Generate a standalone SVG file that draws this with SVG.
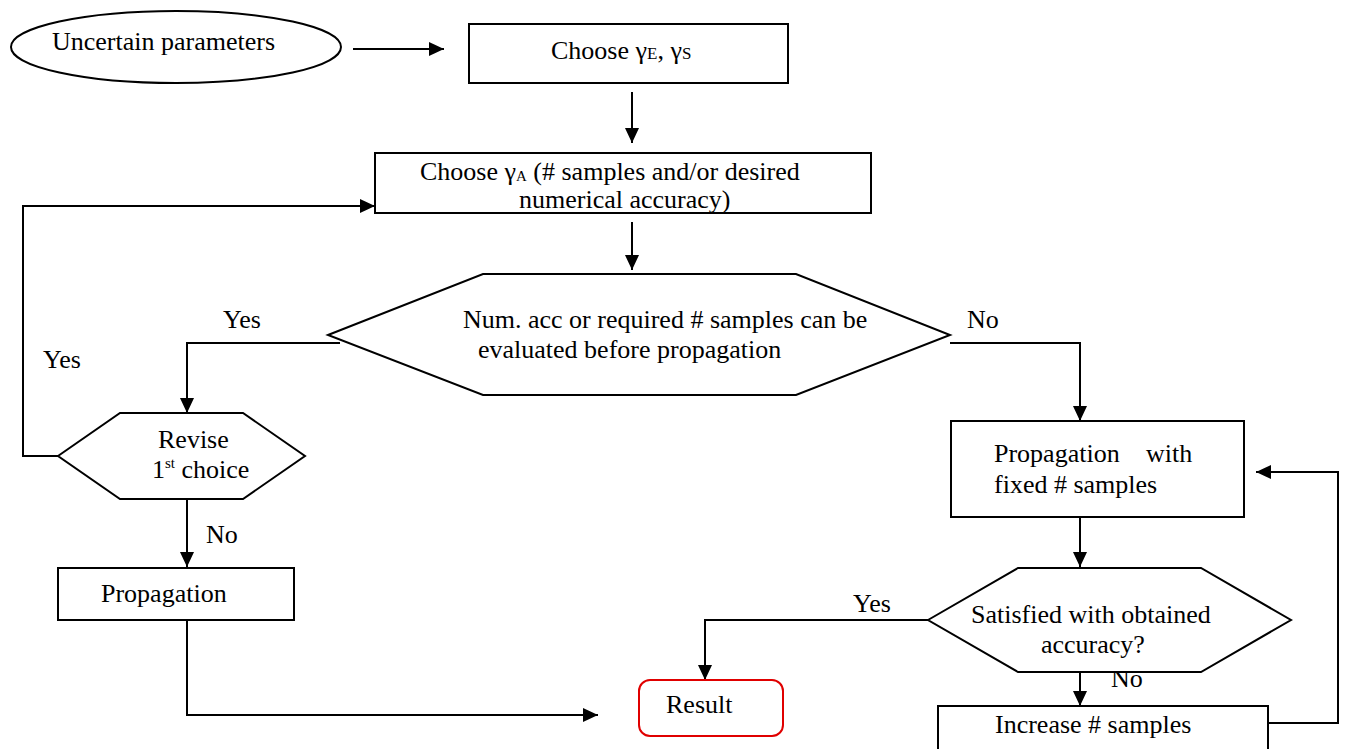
<svg xmlns="http://www.w3.org/2000/svg" width="1348" height="749" viewBox="0 0 1348 749">
<style>
.s{fill:#fff;stroke:#000;stroke-width:2}
.c{fill:none;stroke:#000;stroke-width:2}
text{font-family:"Liberation Serif","Times New Roman",serif;font-size:26px;fill:#000}
.sub{font-size:17px}
</style>
<defs>
<marker id="ah" markerUnits="userSpaceOnUse" markerWidth="16" markerHeight="14" refX="15" refY="7" orient="auto">
<path d="M0,0 L15,7 L0,14 z" fill="#000"/>
</marker>
</defs>
<rect width="1348" height="749" fill="#fff"/>
<g id="connectors">
<line class="c" x1="353" y1="49" x2="444" y2="49" marker-end="url(#ah)"/>
<line class="c" x1="632" y1="92" x2="632" y2="143" marker-end="url(#ah)"/>
<line class="c" x1="632" y1="222" x2="632" y2="270" marker-end="url(#ah)"/>
<polyline class="c" points="58,456 23,456 23,206 375,206" marker-end="url(#ah)"/>
<polyline class="c" points="340,343 187,343 187,413" marker-end="url(#ah)"/>
<line class="c" x1="187" y1="499" x2="187" y2="567" marker-end="url(#ah)"/>
<polyline class="c" points="187,620 187,715 598,715" marker-end="url(#ah)"/>
<polyline class="c" points="950,343 1080,343 1080,421" marker-end="url(#ah)"/>
<line class="c" x1="1080" y1="517" x2="1080" y2="567" marker-end="url(#ah)"/>
<polyline class="c" points="928,620 705,620 705,680" marker-end="url(#ah)"/>
<line class="c" x1="1080" y1="672" x2="1080" y2="706" marker-end="url(#ah)"/>
<polyline class="c" points="1268,723 1338,723 1338,472 1256,472" marker-end="url(#ah)"/>
<text x="223" y="328">Yes</text>
<text x="43" y="368">Yes</text>
<text x="967" y="328">No</text>
<text x="206" y="543">No</text>
<text x="853" y="612">Yes</text>
<text x="1111" y="687">No</text>
</g>
<g id="uncertain">
<ellipse class="s" cx="176" cy="47" rx="165" ry="36"/>
<text x="52" y="50">Uncertain parameters</text>
</g>
<g id="chooseES">
<rect class="s" x="469" y="24" width="319" height="59"/>
<text x="551" y="59">Choose γ<tspan class="sub">E</tspan>, γ<tspan class="sub">S</tspan></text>
</g>
<g id="chooseA">
<rect class="s" x="375" y="153" width="496" height="60"/>
<text x="420" y="180">Choose γ<tspan class="sub" dy="1" style="font-size:15px">A</tspan><tspan dy="-1"> (# samples and/or desired</tspan></text>
<text x="519" y="208">numerical accuracy)</text>
</g>
<g id="evaluate">
<polygon class="s" points="328,335 483,274 796,274 950,335 796,395 483,395"/>
<text x="463" y="328">Num. acc or required # samples can be</text>
<text x="478" y="358">evaluated before propagation</text>
</g>
<g id="revise">
<polygon class="s" points="58,456 120,413 243,413 305,456 243,499 120,499"/>
<text x="158" y="448">Revise</text>
<text x="152" y="478">1<tspan class="sub" dy="-10" style="font-size:15px">st</tspan><tspan dy="10"> choice</tspan></text>
</g>
<g id="propagation">
<rect class="s" x="58" y="568" width="236" height="52"/>
<text x="101" y="602">Propagation</text>
</g>
<g id="result">
<rect x="639" y="680" width="144" height="56" rx="11" fill="#fff" stroke="#e00000" stroke-width="2"/>
<text x="666" y="713">Result</text>
</g>
<g id="propfixed">
<rect class="s" x="951" y="421" width="293" height="96"/>
<text x="994" y="462">Propagation</text>
<text x="1146" y="462">with</text>
<text x="994" y="493">fixed # samples</text>
</g>
<g id="satisfied">
<polygon class="s" points="928,620 1018,568 1201,568 1291,620 1201,672 1018,672"/>
<text x="971" y="623">Satisfied with obtained</text>
<text x="1041" y="653">accuracy?</text>
</g>
<g id="increase">
<rect class="s" x="938" y="706" width="330" height="50"/>
<text x="995" y="733">Increase # samples</text>
</g>
</svg>
